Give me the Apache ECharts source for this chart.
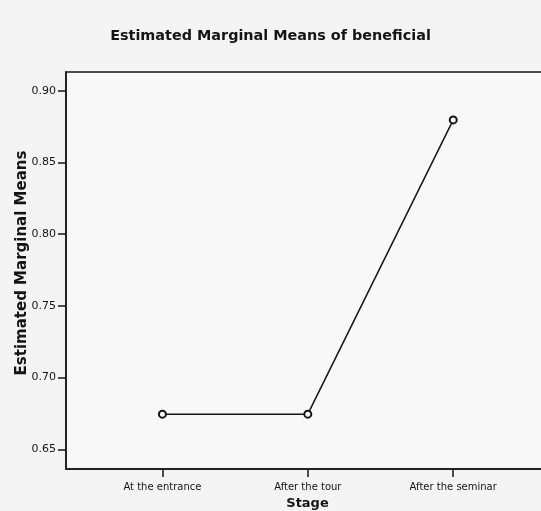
<!DOCTYPE html>
<html>
<head>
<meta charset="utf-8">
<script src="https://cdn.jsdelivr.net/npm/echarts@6/dist/echarts.min.js"></script>
<style>
  html, body { margin: 0; padding: 0; background: #f4f4f4; }
  #chart { width: 541px; height: 511px; }
</style>
</head>
<body>
<div id="chart"></div>
<script>
// Stages of the visit and the estimated marginal means of "beneficial"
var stages = ['At the entrance', 'After the tour', 'After the seminar'];
var means = [0.6745, 0.6745, 0.8796];
var yTicks = [0.65, 0.70, 0.75, 0.80, 0.85, 0.90];
var stageIndex = [0, 1, 2];

var FONT = 'DejaVu Sans';
var INK = '#141414';

var chart = echarts.init(document.getElementById('chart'), null, { renderer: 'canvas' });

var points = stageIndex.map(function (i) { return [i, means[i]]; });

chart.setOption({
  backgroundColor: '#f4f4f4',
  animation: false,
  title: {
    text: 'Estimated Marginal Means of beneficial',
    left: 'center',
    top: 24,
    textStyle: { fontFamily: FONT, fontSize: 14.4, fontWeight: 'bold', color: INK }
  },
  // the plot frame runs past the right edge of the canvas
  grid: {
    left: 66, top: 72, width: 489, height: 397,
    outerBoundsMode: 'none',
    containLabel: false,
    show: true,
    backgroundColor: '#f8f8f8',
    borderColor: INK,
    borderWidth: 1.5
  },
  xAxis: {
    type: 'value',
    min: -0.663,
    max: 2.7,
    name: 'Stage',
    nameLocation: 'middle',
    nameGap: 28,
    nameTextStyle: { fontFamily: FONT, fontSize: 13, fontWeight: 'bold', color: INK, padding: [0, 6, 0, 0] },
    splitLine: { show: false },
    axisLine: { show: true, onZero: false, lineStyle: { color: INK, width: 1.5 } },
    axisTick: { show: true, length: 8, customValues: stageIndex, lineStyle: { color: INK, width: 1.5 } },
    axisLabel: {
      customValues: stageIndex,
      margin: 13,
      fontFamily: FONT, fontSize: 10, color: INK,
      formatter: function (v) { return stages[Math.round(v)]; }
    }
  },
  yAxis: {
    type: 'value',
    min: 0.6363,
    max: 0.913,
    name: 'Estimated Marginal Means',
    nameLocation: 'middle',
    nameGap: 36,
    nameMoveOverlap: false,
    nameTextStyle: { fontFamily: FONT, fontSize: 15, fontWeight: 'bold', color: INK, padding: [0, 0, 0, 15] },
    splitLine: { show: false },
    axisLine: { show: true, onZero: false, lineStyle: { color: INK, width: 1.5 } },
    axisTick: { show: true, length: 8, customValues: yTicks, lineStyle: { color: INK, width: 1.5 } },
    axisLabel: {
      customValues: yTicks,
      margin: 10,
      fontFamily: FONT, fontSize: 11, color: INK,
      formatter: function (v) { return v.toFixed(2); }
    }
  },
  series: [{
    type: 'line',
    data: points,
    symbol: 'emptyCircle',
    symbolSize: 7,
    lineStyle: { color: INK, width: 1.5 },
    itemStyle: { color: INK, borderColor: INK, borderWidth: 1.5 }
  }]
});
</script>
</body>
</html>
